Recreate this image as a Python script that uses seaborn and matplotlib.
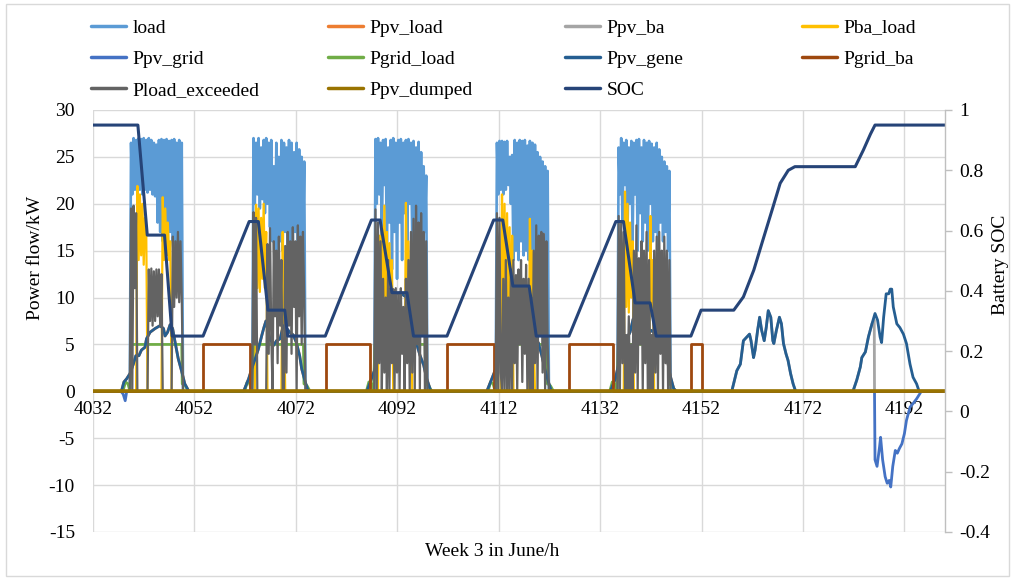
import numpy as np
import matplotlib
matplotlib.use("Agg")
import matplotlib.pyplot as plt
from matplotlib.lines import Line2D
from matplotlib.patches import Rectangle
from matplotlib.ticker import FixedFormatter, FixedLocator
import seaborn as sns

sns.set_theme(style="white")
plt.rcParams.update({
    'font.family': ['Liberation Serif', 'DejaVu Serif'],
    'font.size': 14,
    'axes.unicode_minus': False,
    'text.color': 'black',
})

# Excel style colours
C_LOAD = '#5B9BD5'
C_PV_LOAD = '#ED7D31'
C_PV_BA = '#A5A5A5'
C_BA_LOAD = '#FFC000'
C_PV_GRID = '#4472C4'
C_GRID_LOAD = '#70AD47'
C_PV_GENE = '#255E91'
C_GRID_BA = '#9E480E'
C_EXCEEDED = '#636363'
C_DUMPED = '#997300'
C_SOC = '#264478'

WEEK_START, WEEK_END = 4032, 4200

# ---------------- data ----------------
# workday blocks, sampled every 15 min from the start hour of each day
day_t0 = [7.0, 7.15, 7.2, 7.4, 7.65]

load_d1 = [0, 0, 26.5, 21, 27, 21.5, 26.8, 21, 27, 21.5, 26.9, 21, 27, 21.5, 26.8, 21.2, 27, 21.5, 26.8, 21, 26.5, 20.8,
           26.3, 18, 26.8, 17, 26.9, 16, 26.8, 17.5, 26.9, 16, 26.7, 17, 26.8, 16, 26.9, 15.5, 26.5, 17, 26.8, 15.5, 26.5, 0]
load_d2 = [0, 0, 27, 20, 26.5, 21, 27, 19.5, 26, 20.5, 26.8, 19, 27, 20, 26.5, 17.5, 26.8, 16, 24, 15, 26.5, 12,
           25, 16, 26.8, 15, 26.5, 17, 26, 14.5, 26.8, 16, 26.5, 15, 25.5, 17, 26.5, 14, 25.8, 16, 25, 15, 24.5, 0]
load_d3 = [0, 0, 26.9, 20, 27, 21, 26.5, 16, 26.8, 22, 26.9, 15, 26, 18, 26.8, 13, 27, 17, 26.5, 12, 26.8, 18,
           26.9, 14, 26.5, 19, 26.8, 15, 26.9, 20, 26.5, 16, 26.7, 17, 26, 15, 26.6, 18, 25.5, 16, 24, 17, 23, 0]
load_d4 = [0, 26.5, 21, 26.7, 21.5, 26.7, 21, 26.6, 21.5, 26.7, 22, 25, 20, 25.2, 14, 26.8, 15, 26.5, 14, 26.8, 16, 26.7,
           14.5, 26.8, 15, 26.2, 14, 26.7, 15, 26.5, 14, 26.3, 16, 25.5, 15, 25, 14, 24.5, 17, 24, 16, 23.5, 0, 0]
load_d5 = [26, 21, 27, 18, 26.5, 22, 26.8, 17, 26, 20, 26.7, 16, 26.5, 21, 26.8, 15, 26.9, 19, 26, 16, 26.8, 18,
           26.5, 15, 26.7, 20, 26.4, 16, 26, 17, 26.5, 15, 25.8, 18, 25, 16, 24.5, 17, 24, 15, 23.5, 0, 0, 0]

pba_d1 = [0, 0, 0, 0, 0, 0, 0, 21.9, 14, 21, 14.5, 20, 13.5, 18.5, 17, 0, 0, 0, 0, 0, 0, 0,
          0, 0, 0, 0, 0, 20.7, 14, 19.5, 14.5, 18, 14, 16, 0, 0, 0, 0, 0, 0, 0, 0, 0, 0]
pba_d2 = [0, 0, 0, 0, 19.9, 11, 19.5, 10.6, 18.5, 12, 20, 11, 17, 0, 0, 0, 0, 0, 0, 0, 0, 0,
          0, 0, 0, 17, 9, 0, 0, 0, 0, 0, 0, 0, 0, 0, 0, 0, 0, 0, 0, 0, 0, 0]
pba_d3 = [0, 0, 0, 0, 0, 16.6, 8, 17.5, 6, 19.8, 9, 17, 5.3, 15.8, 7, 14, 0, 0, 0, 0, 0, 0,
          0, 0, 0, 0, 20.1, 8, 16, 6, 12, 0, 0, 0, 0, 0, 0, 0, 0, 0, 0, 0, 0, 0]
pba_d4 = [0, 0, 0, 0, 0, 21, 6, 20, 4.2, 19, 7, 17.5, 5, 16.6, 0, 0, 0, 0, 0, 0, 0, 0,
          0, 0, 0, 0, 0, 18.4, 8, 15, 6, 0, 0, 0, 0, 0, 0, 0, 0, 0, 0, 0, 0, 0]
pba_d5 = [0, 0, 0, 0, 0, 21.3, 9, 20, 8.4, 18, 10, 16, 0, 0, 0, 0, 0, 0, 0, 0, 0, 0,
          0, 0, 0, 18.7, 9, 14, 0, 0, 0, 0, 0, 0, 0, 0, 0, 0, 0, 0, 0, 0, 0, 0]

exc_d1 = [0, 0, 19.5, 0, 19.8, 11, 19, 0, 0, 0, 0, 0, 0, 0, 0, 0, 13, 7.5, 13.1, 7, 12.8, 7.5,
          13, 8, 13, 7, 12.5, 0, 0, 0, 0, 0, 0, 0, 0, 16.5, 9, 16, 10, 17, 9.5, 16, 10, 0]
exc_d2 = [0, 0, 19.1, 5, 18.5, 0, 0, 0, 0, 0, 0, 0, 0, 15.7, 4, 17.4, 6, 0, 16, 8, 15, 3,
          16.5, 7, 14, 0, 0, 15.5, 2, 17, 7, 16, 4, 17.5, 9, 16, 0, 17.7, 8, 16.5, 5, 17, 10, 0]
exc_d3 = [0, 0, 19.4, 0, 18, 3, 16, 0, 12, 2, 10, 0, 14, 0, 11, 3, 10.9, 0, 11, 2, 10.5, 0,
          11, 4, 9, 0, 12, 3, 14, 0, 17, 2, 18.4, 0, 19.8, 5, 18, 0, 19, 6, 17, 0, 16, 0]
exc_d4 = [0, 19, 0, 18.5, 2, 0, 12, 0, 14, 0, 10, 0, 13, 0, 14, 3, 12.4, 0, 13, 5, 14, 1,
          12, 4, 13.5, 0, 12, 0, 10, 0, 15, 3, 17.7, 0, 16.6, 6, 17, 2, 16.8, 0, 16, 5, 0, 0]
exc_d5 = [18.7, 0, 18, 3, 17, 0, 6, 0, 8, 0, 5, 0, 15, 2, 17.7, 0, 14.2, 5, 16, 0, 15, 3,
          17, 0, 14, 0, 6, 0, 15, 2, 16.5, 0, 17, 4, 15, 0, 16.5, 3, 15, 0, 14, 0, 0, 0]

# grid -> load on workdays (hour of day, kW)
gl_hours = [5.9, 6.4, 6.9, 7.3, 7.6, 17.5, 17.6, 18.2, 18.8]
gl_vals = [0, 1.0, 0.8, 0, 5, 5, 0.8, 0.6, 0]

# PV generation per day
gene1_t = [4037.6, 4038.1, 4038.65, 4039.3, 4039.95, 4040.45, 4041.05, 4041.55, 4042.25, 4042.55, 4043.25, 4044.25,
           4045.2, 4045.9, 4046.2, 4046.7, 4047.2, 4047.7, 4048.2, 4048.8, 4049.5, 4050.1, 4050.9]
gene1_v = [0, 1.0, 1.35, 1.9, 2.9, 3.8, 3.8, 4.4, 4.7, 5.6, 6.3, 6.7, 7.0, 6.7, 5.9, 6.3, 7.1, 6.7, 5.2, 3.5, 2.1, 0.8, 0]
gene2_t = [4061.7, 4062.7, 4063.3, 4064.0, 4064.6, 4065.3, 4065.7, 4066.1, 4066.4, 4066.9, 4067.6, 4068.2,
           4068.9, 4069.5, 4070.2, 4070.8, 4071.5, 4072.1, 4072.75, 4073.15, 4073.85, 4074.45]
gene2_v = [0, 1.35, 2.4, 3.5, 4.5, 6.0, 6.8, 7.5, 6.7, 5.6, 4.9, 5.4, 5.6, 7.0, 6.7, 6.3, 6.0, 5.2, 3.8, 2.4, 1.0, 0]
gene3_t = [4086.0, 4086.9, 4087.9, 4088.6, 4089.25, 4089.85, 4090.25, 4090.75, 4091.25, 4092.55, 4093.9, 4094.6,
           4095.2, 4095.9, 4096.5, 4097.2, 4097.8, 4098.5, 4098.8]
gene3_v = [0, 1.35, 2.8, 4.2, 7.0, 7.9, 7.4, 8.8, 10.3, 10.5, 10.0, 8.4, 6.3, 4.9, 3.8, 2.8, 1.35, 0.2, 0]
gene4_t = [4109.65, 4110.65, 4111.7, 4112.3, 4113.0, 4113.6, 4114.3, 4114.7, 4115.2, 4116.0, 4117.0, 4118.0,
           4119.2, 4119.8, 4120.5, 4121.1, 4121.8, 4122.4]
gene4_v = [0, 1.35, 2.8, 4.2, 5.6, 7.0, 7.9, 7.4, 5.6, 5.5, 6.0, 5.5, 4.2, 5.2, 3.8, 2.4, 1.0, 0]
gene5_t = [4134.0, 4135.0, 4135.9, 4136.6, 4137.2, 4137.9, 4138.5, 4138.9, 4140.1, 4141.1, 4142.1, 4143.85,
           4144.45, 4145.2, 4145.8, 4146.5, 4147.0]
gene5_v = [0, 1.35, 3.5, 4.9, 5.6, 6.3, 7.7, 7.9, 6.5, 6.0, 6.5, 5.6, 4.9, 3.5, 1.7, 0.3, 0]
gene6_t = [4157.95, 4158.95, 4159.65, 4160.25, 4160.95, 4161.45, 4161.75, 4162.25, 4162.55, 4163.05, 4163.45,
           4163.85, 4164.35, 4164.75, 4165.15, 4165.65, 4166.05, 4166.25, 4166.75, 4167.35, 4167.75, 4168.15,
           4168.65, 4169.05, 4169.55, 4170.05, 4170.55]
gene6_v = [0, 2.2, 2.9, 5.4, 5.8, 6.1, 5.4, 3.6, 4.4, 6.5, 7.9, 6.5, 5.4, 6.8, 8.6, 7.9, 5.4, 5.1, 6.5, 7.9,
           7.2, 5.1, 4.0, 3.3, 1.9, 0.8, 0]
gene7_t = [4181.85, 4182.6, 4183.3, 4183.6, 4184.3, 4184.9, 4185.6, 4186.2, 4186.7, 4187.2, 4187.5, 4187.9,
           4188.4, 4188.9, 4189.2, 4189.5, 4189.8, 4190.5, 4191.1, 4191.8, 4192.4, 4193.1, 4193.7, 4194.4, 4194.9]
gene7_v = [0, 1.2, 2.6, 3.6, 4.2, 5.8, 7.2, 8.3, 7.6, 5.8, 5.2, 7.9, 10.4, 10.4, 10.9, 10.9, 9.0, 7.2, 6.8,
           6.1, 5.1, 2.9, 1.5, 0.8, 0]

# PV -> battery on the last day (rest of the weekend follows the generation curve)
pvba7_t = [4181.85, 4182.6, 4183.3, 4183.6, 4184.3, 4184.9, 4185.6, 4186.05, 4186.1]
pvba7_v = [0, 1.2, 2.6, 3.6, 4.2, 5.8, 7.2, 7.6, 0]

# PV -> grid (export shown negative)
pvgrid_t = [4037.5, 4037.95, 4038.35, 4038.65, 4186.1, 4186.2, 4186.6, 4187.1, 4187.3, 4187.7, 4188.2, 4188.6,
            4189.0, 4189.3, 4189.7, 4190.2, 4190.6, 4191.0, 4191.5, 4192.0, 4192.4, 4193.1, 4193.7, 4194.4,
            4195.1, 4195.3]
pvgrid_v = [0, -0.3, -1.0, 0, 0, -7.3, -8.0, -5.9, -4.9, -7.3, -9.1, -9.8, -9.5, -10.2, -8.0, -6.3, -6.6,
            -6.1, -5.6, -4.5, -3.1, -1.7, -1.3, -0.8, -0.2, 0]

# grid -> battery night charging pulses
gba_on = [4053.7, 4077.9, 4101.8, 4125.85, 4149.9]
gba_off = [4063.0, 4086.6, 4111.0, 4134.6, 4152.1]
gba_level = [5, 5, 5, 5, 5]

# battery state of charge
soc_t = [4032, 4040.85, 4042.7, 4046.1, 4047.6, 4053.7, 4062.8, 4064.6, 4066.5, 4069.8, 4070.4, 4077.8,
         4086.9, 4088.6, 4090.95, 4093.9, 4095.2, 4101.8, 4111.0, 4112.8, 4114.8, 4118.0, 4119.4, 4125.85,
         4135.1, 4136.6, 4138.9, 4141.85, 4143.05, 4149.9, 4151.9, 4158.35, 4160.25, 4162.3, 4163.9, 4165.9,
         4167.5, 4169.1, 4170.4, 4182.3, 4183.9, 4185.3, 4186.2, 4200]
soc_v = [0.95, 0.95, 0.585, 0.585, 0.25, 0.25, 0.63, 0.63, 0.336, 0.336, 0.25, 0.25,
         0.635, 0.635, 0.394, 0.394, 0.25, 0.25, 0.635, 0.635, 0.416, 0.416, 0.25, 0.25,
         0.63, 0.63, 0.36, 0.36, 0.25, 0.25, 0.336, 0.336, 0.38, 0.469, 0.558, 0.668,
         0.757, 0.80, 0.812, 0.812, 0.867, 0.92, 0.95, 0.95]


# ---------------- build full-week series ----------------
def workday_series(day_lists):
    xs, ys = [WEEK_START], [0.0]
    for d, vals in enumerate(day_lists):
        t = WEEK_START + 24 * d + day_t0[d] + 0.25 * np.arange(len(vals))
        xs += [t[0] - 0.25] + list(t) + [t[-1] + 0.25]
        ys += [0.0] + list(vals) + [0.0]
    xs.append(WEEK_END)
    ys.append(0.0)
    return np.array(xs), np.array(ys)


def join_days(ts, vs):
    xs, ys = [WEEK_START], [0.0]
    for t, v in zip(ts, vs):
        xs += list(t)
        ys += list(v)
    xs.append(WEEK_END)
    ys.append(0.0)
    return np.array(xs), np.array(ys)


load_x, load_y = workday_series([load_d1, load_d2, load_d3, load_d4, load_d5])
pba_x, pba_y = workday_series([pba_d1, pba_d2, pba_d3, pba_d4, pba_d5])
exc_x, exc_y = workday_series([exc_d1, exc_d2, exc_d3, exc_d4, exc_d5])

gene_ts = [gene1_t, gene2_t, gene3_t, gene4_t, gene5_t, gene6_t, gene7_t]
gene_vs = [gene1_v, gene2_v, gene3_v, gene4_v, gene5_v, gene6_v, gene7_v]
gene_x, gene_y = join_days(gene_ts, gene_vs)
pvload_x, pvload_y = join_days(gene_ts[:5], gene_vs[:5])
pvba_x, pvba_y = join_days([gene6_t, pvba7_t], [gene6_v, pvba7_v])
pvgrid_x, pvgrid_y = join_days([pvgrid_t], [pvgrid_v])

gl_x, gl_y = join_days([[WEEK_START + 24 * d + h for h in gl_hours] for d in range(5)], [gl_vals] * 5)

gba_x, gba_y = [WEEK_START], [0.0]
for on, off, lev in zip(gba_on, gba_off, gba_level):
    gba_x += [on, on, off, off]
    gba_y += [0, lev, lev, 0]
gba_x.append(WEEK_END)
gba_y.append(0.0)

dump_x, dump_y = [WEEK_START, WEEK_END], [0, 0]

# ---------------- figure ----------------
fig = plt.figure(figsize=(10.13, 5.79), dpi=100)
ax = fig.add_axes([93 / 1013, 1 - 532 / 579, (945 - 93) / 1013, (532 - 110) / 579])


def draw(axis, x, y, color, lw):
    sns.lineplot(x=np.asarray(x, float), y=np.asarray(y, float), ax=axis, color=color, linewidth=lw,
                 estimator=None, sort=False, legend=False)


draw(ax, load_x, load_y, C_LOAD, 1.9)
draw(ax, pvload_x, pvload_y, C_PV_LOAD, 2.0)
draw(ax, pvba_x, pvba_y, C_PV_BA, 2.0)
draw(ax, pba_x, pba_y, C_BA_LOAD, 1.6)
draw(ax, pvgrid_x, pvgrid_y, C_PV_GRID, 2.0)
draw(ax, gl_x, gl_y, C_GRID_LOAD, 2.0)
draw(ax, gene_x, gene_y, C_PV_GENE, 2.0)
draw(ax, gba_x, gba_y, C_GRID_BA, 2.0)
draw(ax, exc_x, exc_y, C_EXCEEDED, 1.6)
draw(ax, dump_x, dump_y, C_DUMPED, 2.6)

ax.set_xlim(WEEK_START, WEEK_END)
ax.set_ylim(-15, 30)
ax.set_xticks(range(4032, 4193, 20))
ax.set_yticks(range(-15, 31, 5))
ax.grid(True, color='#D9D9D9', linewidth=1.0)
ax.set_axisbelow(True)
for s in ['top', 'left', 'right']:
    ax.spines[s].set_visible(False)
ax.spines['bottom'].set_position(('data', 0))
ax.spines['bottom'].set_visible(False)
ax.tick_params(axis='x', length=0, pad=7, labelsize=14, colors='black')
ax.tick_params(axis='y', length=0, pad=13, labelsize=14, colors='black')
ax.set_xlabel('')
ax.set_ylabel('')

ax2 = ax.twinx()
draw(ax2, soc_t, soc_v, C_SOC, 2.2)
ax2.set_ylim(-0.4, 1.0)
soc_ticks = [-0.4, -0.2, 0, 0.2, 0.4, 0.6, 0.8, 1.0]
ax2.yaxis.set_major_locator(FixedLocator(soc_ticks))
ax2.yaxis.set_major_formatter(FixedFormatter(['-0.4', '-0.2', '0', '0.2', '0.4', '0.6', '0.8', '1']))
ax2.grid(False)
for s in ['top', 'left', 'bottom']:
    ax2.spines[s].set_visible(False)
ax2.spines['right'].set_color('#BFBFBF')
ax2.spines['right'].set_linewidth(1.0)
ax2.tick_params(axis='y', direction='out', length=5, width=1, color='#BFBFBF', pad=5,
                labelsize=14, labelcolor='black', right=True)
ax2.set_xlabel('')
ax2.set_ylabel('')

fig.text(35 / 1013, 1 - 258 / 579, 'Power flow/kW', rotation=90, ha='center', va='center', fontsize=14)
fig.text(1000 / 1013, 1 - 265 / 579, 'Battery SOC', rotation=90, ha='center', va='center', fontsize=14)
fig.text(492 / 1013, 1 - 552 / 579, 'Week 3 in June/h', ha='center', va='center', fontsize=14)

# legend laid out in four columns like the original
names = ['load', 'Ppv_load', 'Ppv_ba', 'Pba_load', 'Ppv_grid', 'Pgrid_load', 'Ppv_gene', 'Pgrid_ba',
         'Pload_exceeded', 'Ppv_dumped', 'SOC']
cols = [C_LOAD, C_PV_LOAD, C_PV_BA, C_BA_LOAD, C_PV_GRID, C_GRID_LOAD, C_PV_GENE, C_GRID_BA,
        C_EXCEEDED, C_DUMPED, C_SOC]
handles = [Line2D([0], [0], color=c, lw=2.5) for c in cols]
col_x = [91, 328, 565, 802]
for j, x0 in enumerate(col_x):
    idx = list(range(j, len(names), 4))
    fig.legend([handles[i] for i in idx], [names[i] for i in idx], loc='upper left',
               bbox_to_anchor=(x0 / 1013, 1 - 19 / 579), bbox_transform=fig.transFigure,
               frameon=False, ncol=1, handlelength=1.8, handletextpad=0.35, labelspacing=0.7,
               borderpad=0, borderaxespad=0, fontsize=14)

fig.patches.append(Rectangle((6 / 1013, 3 / 579), 1003 / 1013, 572 / 579, transform=fig.transFigure,
                             fill=False, edgecolor='#D9D9D9', linewidth=1.0))

fig.savefig('out.png', dpi=100)
